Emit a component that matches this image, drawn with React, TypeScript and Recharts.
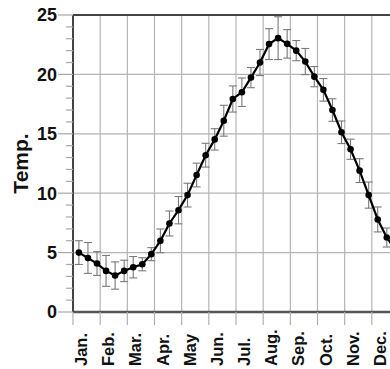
import { CartesianGrid, ErrorBar, Line, LineChart, ReferenceLine, XAxis, YAxis } from 'recharts';

const MONTHS = ['Jan.', 'Feb.', 'Mar.', 'Apr.', 'May', 'Jun.', 'Jul.', 'Aug.', 'Sep.', 'Oct.', 'Nov.', 'Dec.'];

// mean temperature per dekad (3 per month)
const TEMPS = [
    5.0, 4.55, 4.08, 3.46, 3.07, 3.46, 3.77, 4.02, 4.87, 5.99, 7.45, 8.57,
    9.84, 11.53, 13.2, 14.53, 16.1, 17.93, 18.5, 19.73, 21.0, 22.55, 23.05, 22.57,
    22.0, 21.08, 19.81, 18.7, 17.0, 15.13, 13.7, 11.9, 9.84, 7.79, 6.27, 5.2,
];

// standard deviation per dekad
const ERRS = [
    1.0, 1.3, 1.0, 1.3, 1.15, 0.9, 0.9, 0.55, 0.55, 1.0, 1.05, 1.15,
    1.0, 1.0, 1.0, 0.9, 1.3, 1.1, 1.2, 0.85, 1.1, 1.3, 1.8, 1.2,
    0.85, 1.1, 0.85, 0.95, 0.95, 0.95, 0.85, 1.0, 1.1, 1.05, 0.8, 0.8,
];

const MONTH_TICKS = [0, 1, 2, 3, 4, 5, 6, 7, 8, 9, 10, 11, 12];
const Y_TICKS = Array.from({ length: 26 }, (_, i) => i);
const Y_GRID = [5, 10, 15, 20];

const data = TEMPS.map((t, i) => ({ x: (i + 0.65) / 3, t, err: ERRS[i] }));

const FONT = '"Liberation Sans", Arial, sans-serif';

const XTick = ({ x, y, payload }) => {
    const label = MONTHS[payload.value];
    return (
        <g>
            <line x1={x} y1={y} x2={x} y2={y + 13} stroke='#b0b0b0' strokeWidth={1.2} />
            {label && (
                <text
                    transform={`translate(${x + 14}, ${y + 54}) rotate(-90)`}
                    textAnchor='start'
                    fontFamily={FONT}
                    fontWeight='bold'
                    fontSize={16.5}
                    fill='#111'
                >
                    {label}
                </text>
            )}
        </g>
    );
};

const YTick = ({ x, y, payload }) => {
    const v = payload.value;
    const major = v % 5 === 0;
    return (
        <g>
            <line x1={major ? x - 15 : x - 7} y1={y} x2={x} y2={y} stroke='#a8a8a8' strokeWidth={1.2} />
            {major && (
                <text x={x - 16} y={y} dy='0.36em' textAnchor='end' fontFamily={FONT} fontWeight='bold' fontSize={18} fill='#111'>
                    {v}
                </text>
            )}
        </g>
    );
};

const TempLabel = ({ viewBox }) => (
    <text
        transform={`translate(28, ${viewBox.y + viewBox.height / 2}) rotate(-90)`}
        textAnchor='middle'
        fontFamily={FONT}
        fontWeight='bold'
        fontSize={21}
        fill='#111'
    >
        Temp.
    </text>
);

export default function App() {
    return (
        <div style={{ position: 'absolute', left: 0, top: 0, width: 390, height: 369, overflow: 'hidden', background: '#fff' }}>
            <LineChart width={400} height={369} data={data} margin={{ top: 15, right: 1, left: 0, bottom: 0 }}>
                <CartesianGrid horizontal={false} stroke='#b4b4b4' strokeWidth={1.2} />
                {Y_GRID.map((v) => (
                    <ReferenceLine key={v} y={v} stroke='#b4b4b4' strokeWidth={1.2} />
                ))}
                <ReferenceLine y={25} stroke='#444' strokeWidth={2} />
                <XAxis
                    dataKey='x'
                    type='number'
                    domain={[0, 12]}
                    ticks={MONTH_TICKS}
                    interval={0}
                    height={57}
                    tickSize={0}
                    tickMargin={0}
                    tickLine={false}
                    axisLine={{ stroke: '#555', strokeWidth: 2.5 }}
                    tick={<XTick />}
                />
                <YAxis
                    type='number'
                    domain={[0, 25]}
                    ticks={Y_TICKS}
                    interval={0}
                    width={73}
                    tickSize={0}
                    tickMargin={0}
                    tickLine={false}
                    axisLine={{ stroke: '#444', strokeWidth: 2 }}
                    tick={<YTick />}
                    label={{ content: TempLabel }}
                />
                <Line
                    dataKey='t'
                    type='linear'
                    stroke='#000'
                    strokeWidth={2.2}
                    dot={{ r: 3.3, fill: '#000', stroke: '#000', strokeWidth: 0 }}
                    isAnimationActive={false}
                >
                    <ErrorBar dataKey='err' width={4} stroke='#7a7a7a' strokeWidth={1.1} direction='y' />
                </Line>
            </LineChart>
        </div>
    );
}
